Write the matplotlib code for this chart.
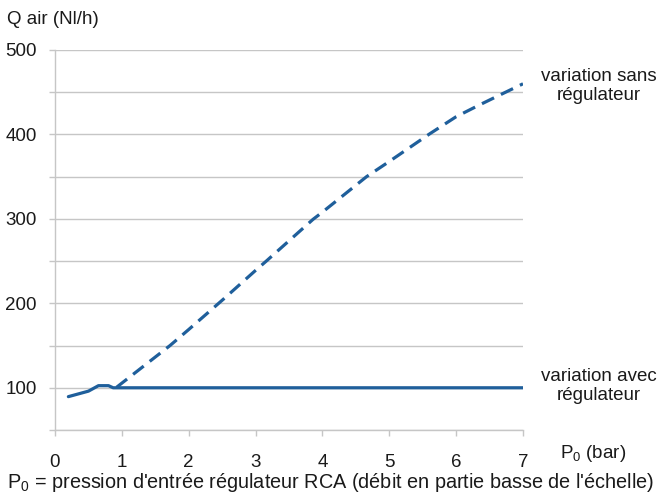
#! /usr/bin/env python3
# -*- coding: utf-8 -*-
import matplotlib
matplotlib.use('Agg')
import matplotlib.pyplot as plt

plt.rcParams['font.family'] = ['Liberation Sans', 'DejaVu Sans']
plt.rcParams['mathtext.fontset'] = 'custom'
plt.rcParams['mathtext.rm'] = 'Liberation Sans'
plt.rcParams['mathtext.it'] = 'Liberation Sans'

# courbe avec regulateur (trait plein)
P_avec = [0.2, 0.5, 0.65, 0.8, 0.87, 7.0]
Q_avec = [89.5, 96, 102.5, 102.5, 100, 100]

# courbe sans regulateur (pointilles)
P_sans = [0.92, 1.0, 1.72, 2.0, 2.52, 3.0, 3.16, 3.86, 4.0, 4.66, 5.0, 5.6, 6.0, 6.35, 6.7, 7.0]
Q_sans = [100.5, 105.5, 150, 169, 205, 239, 250, 299.5, 308, 350, 368, 400.5, 421, 435, 448.5, 460]

X_ticks = [0, 1, 2, 3, 4, 5, 6, 7]
Y_ticks = [50, 100, 150, 200, 250, 300, 350, 400, 450, 500]
Y_labels = ['', '100', '', '200', '', '300', '', '400', '', '500']

Blue = '#1f5f9b'
Grid = '#c6c6c6'
Txt = '#1a1a1a'
Fs = 13.5


def plotDebit():
    fig = plt.figure(figsize=(6.59, 4.93), dpi=100)
    ax = fig.add_axes([55 / 659, 1 - 430 / 493, 468 / 659, 380 / 493])

    ax.plot(P_avec, Q_avec, color=Blue, lw=2.3, solid_capstyle='round', zorder=3)
    ax.plot(P_sans, Q_sans, color=Blue, lw=2.3, dashes=(4.2, 2.4), zorder=3)

    ax.set_xlim(0, 7)
    ax.set_ylim(50, 500)
    ax.set_xticks(X_ticks)
    ax.set_xticklabels([str(x) for x in X_ticks])
    ax.set_yticks(Y_ticks)
    ax.set_yticklabels(Y_labels)
    ax.tick_params(axis='both', colors=Grid, labelcolor=Txt, labelsize=Fs,
                   length=4, width=1)
    ax.tick_params(axis='y', pad=9)
    ax.tick_params(axis='x', pad=13)
    ax.grid(axis='y', color=Grid, lw=1)
    ax.set_axisbelow(True)
    for side in ['top', 'right']:
        ax.spines[side].set_visible(False)
    for side in ['left', 'bottom']:
        ax.spines[side].set_color(Grid)
        ax.spines[side].set_linewidth(1)

    fig.text(7 / 659, 1 - 20 / 493, 'Q air (Nl/h)', fontsize=Fs, color=Txt,
             ha='left', va='center')
    fig.text(560 / 659, 1 - 454 / 493, r'P$_0$ (bar)', fontsize=Fs, color=Txt,
             ha='left', va='center')
    fig.text(599 / 659, 1 - 86 / 493, 'variation sans\nrégulateur', fontsize=Fs,
             color=Txt, ha='center', va='center', linespacing=1.15)
    fig.text(599 / 659, 1 - 386 / 493, 'variation avec\nrégulateur', fontsize=Fs,
             color=Txt, ha='center', va='center', linespacing=1.15)
    fig.text(7 / 659, 1 - 483 / 493,
             r"P$_0$ = pression d'entrée régulateur RCA (débit en partie basse de l'échelle)",
             fontsize=14.3, color=Txt, ha='left', va='center')

    fig.savefig('out.png', dpi=100)
    return


def main():
    plotDebit()


if __name__ == '__main__':
    main()
